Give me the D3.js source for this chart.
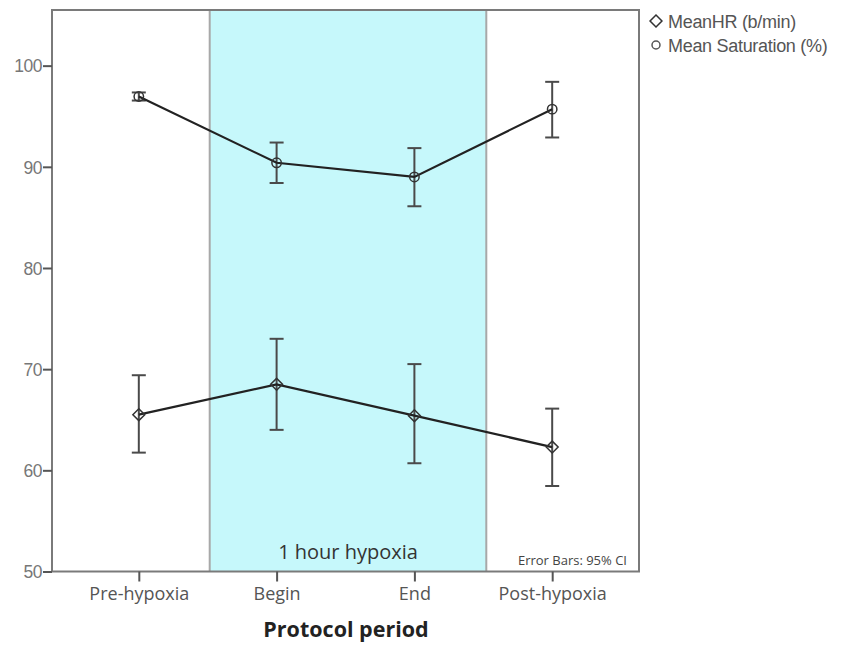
<!DOCTYPE html>
<html>
<head>
<meta charset="utf-8">
<script src="https://cdn.jsdelivr.net/npm/d3@7"></script>
<style>
  body { margin: 0; background: #fff; }
  svg { display: block; }
</style>
</head>
<body>
<svg id="chart" width="854" height="645"></svg>
<script>
const periods = ["Pre-hypoxia", "Begin", "End", "Post-hypoxia"];

const hrMean = [65.5, 68.5, 65.4, 62.3];
const hrLow  = [61.75, 64.0, 60.7, 58.45];
const hrHigh = [69.4, 73.0, 70.5, 66.1];

const satMean = [96.95, 90.4, 89.0, 95.7];
const satLow  = [96.55, 88.4, 86.1, 92.9];
const satHigh = [97.35, 92.4, 91.85, 98.4];

const yTicks = [50, 60, 70, 80, 90, 100];

const svg = d3.select("#chart");
const plotLeft = 52, plotRight = 639, plotTop = 10, plotBottom = 571.5;

let x = d3.scalePoint().domain(periods).range([plotLeft, plotRight]).padding(0.63);
let y = d3.scaleLinear().domain([50, 105.5]).range([plotBottom, plotTop]);

// shaded hypoxia period, between the category midpoints
let x0 = (x("Pre-hypoxia") + x("Begin")) / 2 + 2;
let x1 = (x("End") + x("Post-hypoxia")) / 2 + 3;
svg.append("rect")
  .attr("x", x0).attr("y", plotTop)
  .attr("width", x1 - x0).attr("height", plotBottom - plotTop)
  .attr("fill", "#c6f8fb");
[x0, x1].forEach(function(v) {
  svg.append("line")
    .attr("x1", v).attr("x2", v).attr("y1", plotTop).attr("y2", plotBottom)
    .attr("stroke", "#a8a8a8").attr("stroke-width", 2);
});

// frame
svg.append("rect")
  .attr("x", plotLeft).attr("y", plotTop)
  .attr("width", plotRight - plotLeft).attr("height", plotBottom - plotTop)
  .attr("fill", "none").attr("stroke", "#7a7a7a").attr("stroke-width", 2);

// y axis
let yAxis = svg.append("g")
  .attr("transform", "translate(" + plotLeft + ",0)")
  .call(d3.axisLeft(y).tickValues(yTicks).tickSize(9).tickPadding(1));
yAxis.select(".domain").remove();
yAxis.selectAll("line").attr("stroke", "#555").attr("stroke-width", 2);
yAxis.selectAll("text")
  .attr("fill", "#777")
  .style("font-family", "'Liberation Sans', Arial, sans-serif")
  .style("font-size", "17.5px")
  .style("letter-spacing", "-0.5px")
  .attr("dy", "0.36em");

// x axis
let xAxis = svg.append("g")
  .attr("transform", "translate(0," + plotBottom + ")")
  .call(d3.axisBottom(x).tickSize(10).tickPadding(6));
xAxis.select(".domain").remove();
xAxis.selectAll("line").attr("stroke", "#555").attr("stroke-width", 2);
xAxis.selectAll("text")
  .attr("fill", "#555")
  .style("font-family", "'Open Sans', sans-serif")
  .style("font-size", "18px");

svg.append("text")
  .attr("x", 346).attr("y", 637)
  .attr("text-anchor", "middle")
  .attr("fill", "#222")
  .style("font-family", "'Open Sans', sans-serif")
  .style("font-weight", "bold")
  .style("font-size", "21.5px")
  .text("Protocol period");

svg.append("text")
  .attr("x", (x0 + x1) / 2).attr("y", 559)
  .attr("text-anchor", "middle")
  .attr("fill", "#333")
  .style("font-family", "'Open Sans', sans-serif")
  .style("font-size", "20px")
  .text("1 hour hypoxia");

svg.append("text")
  .attr("x", plotRight - 12).attr("y", 565)
  .attr("text-anchor", "end")
  .attr("fill", "#444")
  .style("font-family", "'Open Sans', sans-serif")
  .style("font-size", "13px")
  .text("Error Bars: 95% CI");

function series(mean, low, high, shape) {
  let g = svg.append("g");
  let pts = periods.map(function(p, i) {
    return {p: p, m: mean[i], lo: low[i], hi: high[i]};
  });

  g.selectAll("line.bar").data(pts).enter().append("line")
    .attr("x1", function(d) { return x(d.p); })
    .attr("x2", function(d) { return x(d.p); })
    .attr("y1", function(d) { return y(d.lo); })
    .attr("y2", function(d) { return y(d.hi); })
    .attr("stroke", "#4a4a4a").attr("stroke-width", 2);
  ["lo", "hi"].forEach(function(k) {
    g.selectAll("line.cap" + k).data(pts).enter().append("line")
      .attr("x1", function(d) { return x(d.p) - 7; })
      .attr("x2", function(d) { return x(d.p) + 7; })
      .attr("y1", function(d) { return y(d[k]); })
      .attr("y2", function(d) { return y(d[k]); })
      .attr("stroke", "#4a4a4a").attr("stroke-width", 2);
  });

  g.append("path").datum(pts)
    .attr("d", d3.line().x(function(d) { return x(d.p); }).y(function(d) { return y(d.m); }))
    .attr("fill", "none").attr("stroke", "#222").attr("stroke-width", 2.2);

  let sym = shape === "diamond"
    ? d3.symbol().type(d3.symbolDiamond2).size(90)
    : d3.symbol().type(d3.symbolCircle).size(70);
  g.selectAll("path.mark").data(pts).enter().append("path")
    .attr("transform", function(d) { return "translate(" + x(d.p) + "," + y(d.m) + ")"; })
    .attr("d", sym)
    .attr("fill", "none").attr("stroke", "#333").attr("stroke-width", 1.5);
}

series(hrMean, hrLow, hrHigh, "diamond");
series(satMean, satLow, satHigh, "circle");

// legend
let legend = svg.append("g").attr("transform", "translate(656,0)");
legend.append("path")
  .attr("transform", "translate(0,21)")
  .attr("d", d3.symbol().type(d3.symbolDiamond2).size(90))
  .attr("fill", "none").attr("stroke", "#333").attr("stroke-width", 1.5);
legend.append("path")
  .attr("transform", "translate(0,45)")
  .attr("d", d3.symbol().type(d3.symbolCircle).size(50))
  .attr("fill", "none").attr("stroke", "#555").attr("stroke-width", 1.5);
legend.selectAll("text")
  .data(["MeanHR (b/min)", "Mean Saturation (%)"])
  .enter().append("text")
  .attr("x", 12)
  .attr("y", function(d, i) { return 28 + i * 24; })
  .attr("fill", "#555")
  .style("font-family", "'Liberation Sans', Arial, sans-serif")
  .style("font-size", "18px")
  .style("letter-spacing", "-0.3px")
  .text(function(d) { return d; });
</script>
</body>
</html>
